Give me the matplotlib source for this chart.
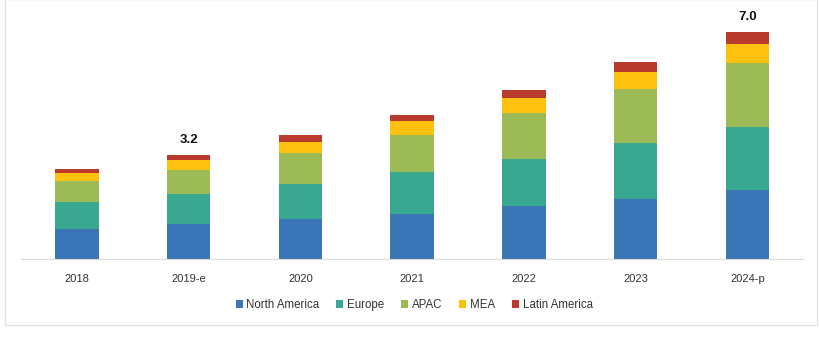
import matplotlib.pyplot as plt
import numpy as np
from matplotlib.patches import Rectangle

plt.rcParams['font.family'] = ['Liberation Sans Narrow', 'Liberation Sans', 'DejaVu Sans']

years = ['2018', '2019-e', '2020', '2021', '2022', '2023', '2024-p']
regions = ['North America', 'Europe', 'APAC', 'MEA', 'Latin America']
north_america = [0.93, 1.07, 1.23, 1.39, 1.63, 1.86, 2.13]
europe = [0.84, 0.94, 1.10, 1.29, 1.47, 1.72, 1.96]
apac = [0.63, 0.73, 0.94, 1.15, 1.41, 1.67, 1.95]
mea = [0.26, 0.31, 0.35, 0.42, 0.47, 0.53, 0.61]
latin_america = [0.13, 0.15, 0.20, 0.21, 0.25, 0.29, 0.35]
labels = {1: '3.2', 6: '7.0'}

colors = ['#3A75B7', '#38A890', '#9CBA56', '#FFC10E', '#B83B2E']
series = [north_america, europe, apac, mea, latin_america]

fig = plt.figure(figsize=(8.2, 3.5), dpi=100)
fig.patches.append(Rectangle((0.006, 0.072), 0.990, 0.93, transform=fig.transFigure,
                             fill=False, edgecolor='#E3E3E3', linewidth=1))
ax = fig.add_axes([0.0256, 0.26, 0.954, 0.74])

ind = np.arange(len(years))
width = 0.39
bottom = np.zeros(len(years))
handles = []
for name, vals, c in zip(regions, series, colors):
    b = ax.bar(ind, vals, width, bottom=bottom, color=c, label=name, linewidth=0)
    handles.append(b)
    bottom += np.array(vals)

for i, txt in labels.items():
    ax.text(ind[i], bottom[i] + 0.3, txt, ha='center', va='bottom',
            fontsize=9.5, fontweight='bold', color='#111111')

ax.set_xlim(-0.5, 6.5)
ax.set_ylim(0, 8)
ax.set_xticks(ind)
ax.set_xticklabels(years, fontsize=8, color='#333333')
ax.tick_params(axis='x', length=0, pad=11)
ax.set_yticks([])
for s in ['top', 'right', 'left']:
    ax.spines[s].set_visible(False)
ax.spines['bottom'].set_color('#D9D9D9')

fig.legend(handles, regions, loc='center', bbox_to_anchor=(0.505, 0.128), ncol=5,
           frameon=False, fontsize=8.3, handlelength=0.6, handleheight=0.7,
           handletextpad=0.3, columnspacing=1.5, labelcolor='#333333')

fig.savefig('out.png', dpi=100)
